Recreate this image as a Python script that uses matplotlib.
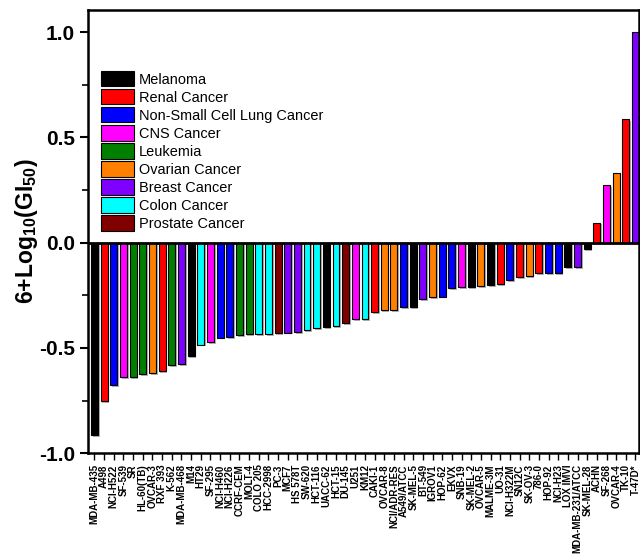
import matplotlib
matplotlib.use("Agg")
import matplotlib.pyplot as plt
import matplotlib.patheffects as pe
from matplotlib.patches import Patch
from matplotlib.ticker import MultipleLocator

plt.rcParams['font.family'] = ['Liberation Sans', 'DejaVu Sans']
plt.rcParams['mathtext.fontset'] = 'custom'
plt.rcParams['mathtext.rm'] = 'Liberation Sans:bold'
plt.rcParams['mathtext.bf'] = 'Liberation Sans:bold'
plt.rcParams['mathtext.it'] = 'Liberation Sans:bold'

# cell lines, in plotted order
cell_lines = ["MDA-MB-435", "A498", "NCI-H522", "SF-539", "SR", "HL-60(TB)", "OVCAR-3",
              "RXF 393", "K-562", "MDA-MB-468", "M14", "HT29", "SF-295", "NCI-H460",
              "NCI-H226", "CCRF-CEM", "MOLT-4", "COLO 205", "HCC-2998", "PC-3", "MCF7",
              "HS 578T", "SW-620", "HCT-116", "UACC-62", "HCT-15", "DU-145", "U251",
              "KM12", "CAKI-1", "OVCAR-8", "NCI/ADR-RES", "A549/ATCC", "SK-MEL-5",
              "BT-549", "IGROV1", "HOP-62", "EKVX", "SNB-19", "SK-MEL-2", "OVCAR-5",
              "MALME-3M", "UO-31", "NCI-H322M", "SN12C", "SK-OV-3", "786-0", "HOP-92",
              "NCI-H23", "LOX IMVI", "MDA-MB-231/ATCC", "SK-MEL-28", "ACHN", "SF-268",
              "OVCAR-4", "TK-10", "T-47D*"]

values = [-0.914, -0.752, -0.678, -0.638, -0.638, -0.625, -0.62, -0.61, -0.583, -0.576,
          -0.54, -0.484, -0.473, -0.452, -0.449, -0.438, -0.435, -0.435, -0.435, -0.43,
          -0.428, -0.425, -0.416, -0.406, -0.402, -0.397, -0.384, -0.365, -0.363, -0.33,
          -0.32, -0.32, -0.306, -0.305, -0.27, -0.26, -0.257, -0.216, -0.213, -0.21,
          -0.207, -0.202, -0.197, -0.178, -0.165, -0.16, -0.144, -0.144, -0.144, -0.117,
          -0.115, -0.03, 0.095, 0.273, 0.329, 0.587, 1.0]

panels = ["Mel", "Ren", "NSCLC", "CNS", "Leu", "Leu", "Ova", "Ren", "Leu", "Bre",
          "Mel", "Col", "CNS", "NSCLC", "NSCLC", "Leu", "Leu", "Col", "Col", "Pro",
          "Bre", "Bre", "Col", "Col", "Mel", "Col", "Pro", "CNS", "Col", "Ren",
          "Ova", "Ova", "NSCLC", "Mel", "Bre", "Ova", "NSCLC", "NSCLC", "CNS", "Mel",
          "Ova", "Mel", "Ren", "NSCLC", "Ren", "Ova", "Ren", "NSCLC", "NSCLC", "Mel",
          "Bre", "Mel", "Ren", "CNS", "Ova", "Ren", "Bre"]

panel_keys = ["Mel", "Ren", "NSCLC", "CNS", "Leu", "Ova", "Bre", "Col", "Pro"]
panel_names = ["Melanoma", "Renal Cancer", "Non-Small Cell Lung Cancer", "CNS Cancer",
               "Leukemia", "Ovarian Cancer", "Breast Cancer", "Colon Cancer", "Prostate Cancer"]
panel_colors = ["#000000", "#ff0000", "#0000ff", "#ff00ff", "#007f00",
                "#ff8000", "#8000ff", "#00ffff", "#800000"]
color_of = dict(zip(panel_keys, panel_colors))

fig = plt.figure(figsize=(6.4, 5.54), dpi=100)
ax = fig.add_axes([0.1375, 0.182, 0.8615, 0.8])

x = range(len(values))
bars = ax.bar(x, values, width=0.72, color=[color_of[p] for p in panels],
              edgecolor="black", linewidth=0.8)
for b in bars:
    b.set_path_effects([pe.SimplePatchShadow(offset=(1.2, -1.2), shadow_rgbFace="gray", alpha=0.6),
                        pe.Normal()])

ax.axhline(0, color="black", lw=2)

ax.set_xlim(-0.67, 56.4)
ax.set_ylim(-1.0, 1.105)
ax.yaxis.set_minor_locator(MultipleLocator(0.25))
ax.set_yticks([-1.0, -0.5, 0.0, 0.5, 1.0])
ax.set_yticklabels(["-1.0", "-0.5", "0.0", "0.5", "1.0"], fontsize=15, fontweight="bold")
ax.set_xticks(list(x))
ax.set_xticklabels(cell_lines, rotation=90, fontsize=7.0, fontweight="bold")
ax.tick_params(axis="y", which="major", direction="out", length=6, width=1.5)
ax.tick_params(axis="y", which="minor", direction="out", length=4, width=1.2)
ax.tick_params(axis="x", direction="out", length=5, width=1.0, pad=3)

for s in ax.spines.values():
    s.set_linewidth(1.8)

ax.set_ylabel(r"6+Log$_{10}$(GI$_{50}$)", fontsize=16.5, fontweight="bold")
ax.yaxis.set_label_coords(-0.087, 0.5)

handles = [Patch(facecolor=c, edgecolor="black", linewidth=0.8) for c in panel_colors]
ax.legend(handles, panel_names, loc="upper left", bbox_to_anchor=(0.005, 0.885),
          frameon=False, fontsize=10.45, handlelength=2.3, handleheight=1.25,
          labelspacing=0.17, handletextpad=0.3, borderaxespad=0.3)

fig.savefig("out.png", dpi=100)
